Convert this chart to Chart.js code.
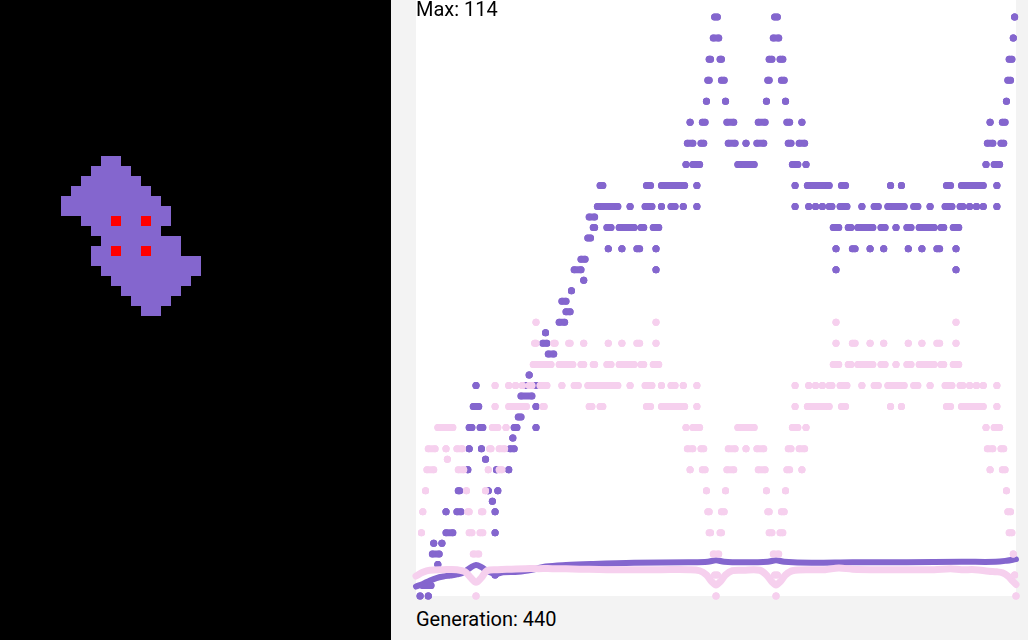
<!DOCTYPE html>
<html>
<head>
<meta charset="utf-8">
<script src="https://cdn.jsdelivr.net/npm/chart.js@4.4.1/dist/chart.umd.min.js"></script>
<style>
  html, body { margin: 0; padding: 0; width: 1028px; height: 640px; overflow: hidden; background: #f3f3f3; font-family: Roboto, sans-serif; }
  #world { position: absolute; left: 0; top: 0; }
  #plotBg { position: absolute; left: 416px; top: 0; width: 600px; height: 596px; background: #fff; }
  #plotBox { position: absolute; left: 406px; top: -14px; width: 620px; height: 620px; }
  .label { position: absolute; left: 416px; font-size: 20px; line-height: 20px; color: #000; }
</style>
</head>
<body>
<canvas id="world" width="391" height="640"></canvas>
<div id="plotBg"></div>
<div id="plotBox"><canvas id="chart"></canvas></div>
<div class="label" style="top:-1px">Max: 114</div>
<div class="label" style="top:609px">Generation: 440</div>
<script>
const purple = '#8466ce';
const pink = '#f6d0ee';

const maxGeneration = 440;
const maxValue = 114;

// runs of generations sitting on the same value: [from, to, value]
const purpleRuns = [
  [3,3,0],[9,9,0],[5,11,2],[58,58,4],[16,16,6],[12,17,8],[13,13,10],[19,19,10],
  [22,27,12],[58,58,12],[22,22,16],[30,33,16],[58,58,16],[56,56,18],
  [31,32,20],[53,53,20],[60,60,20],[38,38,24],[59,59,24],[68,68,24],[51,51,26],
  [39,39,28],[48,48,28],[69,72,28],[71,71,30],
  [39,41,32],[47,49,32],[72,74,32],[88,88,32],[75,77,34],[42,46,36],[88,88,36],
  [77,85,38],[44,44,40],[80,80,40],[88,88,40],[83,83,42],[92,98,44],[97,101,46],
  [93,96,48],[95,95,50],[105,109,52],[110,113,54],[107,110,56],[114,114,58],[123,123,60],
  [116,121,62],[176,176,62],[308,308,62],[396,396,62],[121,124,64],
  [141,141,66],[151,151,66],[162,164,66],[176,176,66],[308,308,66],[320,322,66],[333,333,66],
  [343,343,66],[361,361,66],[371,371,66],[382,384,66],[396,396,66],
  [126,128,68],
  [130,131,70],[140,143,70],[149,160,70],[165,167,70],[174,178,70],[306,310,70],[317,319,70],
  [324,335,70],[341,344,70],[352,352,70],[360,363,70],[369,380,70],[385,387,70],[394,398,70],
  [127,131,72],
  [133,148,74],[157,157,74],[168,173,74],[180,180,74],[187,190,74],[196,196,74],[206,206,74],
  [278,278,74],[288,288,74],[293,293,74],[298,298,74],[303,305,74],[311,316,74],[327,327,74],
  [336,339,74],[346,358,74],[365,368,74],[377,377,74],[388,393,74],[399,401,74],[406,406,74],
  [411,411,74],[416,416,74],[426,426,74],
  [135,137,78],[169,172,78],[180,197,78],[206,206,78],[278,278,78],[287,303,78],[312,315,78],
  [348,348,78],[356,356,78],[389,392,78],[400,416,78],[426,426,78],
  [198,198,82],[203,208,82],[236,248,82],[276,280,82],[286,286,82],[418,418,82],[424,428,82],
  [199,203,86],[209,211,86],[229,234,86],[242,242,86],[250,255,86],[273,275,86],[281,285,86],
  [419,423,86],[429,431,86],
  [201,201,90],[210,212,90],[228,233,90],[251,256,90],[272,274,90],[283,283,90],[421,421,90],[430,432,90],
  [213,213,94],[227,227,94],[257,257,94],[271,271,94],[433,433,94],
  [214,215,98],[224,226,98],[258,259,98],[268,270,98],[434,436,98],
  [215,216,102],[223,224,102],[259,261,102],[267,269,102],[435,437,102],
  [218,222,106],[262,266,106],[438,438,106],
  [219,221,110],[263,265,110],[439,439,110],
  [220,220,114],[264,264,114],[440,440,114]
];

const pinkRuns = [
  [44,44,0],[220,220,0],[264,264,0],[440,440,0],
  [219,221,4],[263,265,4],[439,439,4],
  [42,46,8],[218,222,8],[262,266,8],[438,438,8],
  [4,4,12],[39,41,12],[47,49,12],[215,216,12],[223,224,12],[259,261,12],[267,269,12],[435,437,12],
  [5,5,16],[38,39,16],[48,49,16],[214,215,16],[224,226,16],[258,259,16],[268,270,16],[434,436,16],
  [7,7,20],[37,37,20],[51,51,20],[213,213,20],[227,227,20],[257,257,20],[271,271,20],[433,433,20],
  [8,13,24],[31,35,24],[53,53,24],[61,63,24],[201,201,24],[210,212,24],[228,233,24],[251,256,24],
  [272,274,24],[283,283,24],[421,421,24],[430,432,24],
  [23,23,26],
  [9,14,28],[22,22,28],[30,34,28],[54,55,28],[61,65,28],[199,203,28],[209,211,28],[229,234,28],
  [242,242,28],[250,255,28],[273,275,28],[281,285,28],[419,423,28],[429,431,28],
  [16,27,32],[56,60,32],[66,66,32],[198,198,32],[203,208,32],[236,248,32],[276,280,32],[286,286,32],
  [418,418,32],[424,428,32],
  [58,58,36],[68,81,36],[93,94,36],[127,129,36],[135,137,36],[169,172,36],[180,197,36],[206,206,36],
  [278,278,36],[287,303,36],[312,315,36],[348,348,36],[356,356,36],[389,392,36],[400,416,36],[426,426,36],
  [58,58,40],[68,68,40],[73,73,40],[78,78,40],[83,85,40],[91,96,40],[107,107,40],[116,119,40],
  [126,148,40],[157,157,40],[168,173,40],[180,180,40],[187,190,40],[196,196,40],[206,206,40],
  [278,278,40],[288,288,40],[293,293,40],[298,298,40],[303,305,40],[311,316,40],[327,327,40],
  [336,339,40],[346,358,40],[365,368,40],[377,377,40],[388,393,40],[399,401,40],[406,406,40],
  [411,411,40],[416,416,40],[426,426,40],
  [86,99,44],[105,115,44],[121,123,44],[130,131,44],[140,143,44],[149,160,44],[165,167,44],
  [174,178,44],[306,310,44],[317,319,44],[324,335,44],[341,344,44],[352,352,44],[360,363,44],
  [369,380,44],[385,387,44],[394,398,44],
  [87,88,48],[101,102,48],[112,113,48],[123,123,48],[141,141,48],[151,151,48],[162,164,48],
  [176,176,48],[308,308,48],[320,322,48],[333,333,48],[343,343,48],[361,361,48],[371,371,48],
  [382,384,48],[396,396,48],
  [88,88,52],[176,176,52],[308,308,52],[396,396,52]
];

// the two low averages, read every few generations
const purpleLowGens = [0,5,10,15,20,25,30,35,40,44,48,52,58,64,75,85,95,110,130,160,200,214,220,226,240,258,264,270,290,320,360,400,425,433,440];
const purpleLow     = [1.8,2.3,2.9,3.4,3.7,3.9,4.1,4.5,5.4,5.9,5.5,4.8,4.2,4.5,4.6,5.0,5.6,5.9,6.1,6.3,6.4,6.5,6.8,6.5,6.4,6.5,6.8,6.5,6.3,6.4,6.4,6.5,6.5,6.7,7.0];

const pinkLowGens = [0,5,10,20,30,36,40,44,48,52,60,70,80,90,100,120,140,160,180,200,208,213,217,220,223,227,232,240,252,257,261,264,267,271,276,290,300,310,320,340,360,380,392,400,410,420,426,430,434,437,440];
const pinkLow     = [3.8,4.5,4.9,5.0,5.0,4.6,3.5,2.6,3.5,4.8,5.0,5.1,5.2,5.2,5.2,5.1,5.0,5.0,5.0,5.0,4.8,4.0,2.7,2.1,2.7,4.0,4.8,4.9,4.9,4.0,2.7,2.1,2.7,4.0,4.8,5.0,5.0,5.3,5.1,5.0,5.0,5.0,5.2,5.0,5.0,4.7,4.6,4.4,3.8,3.0,2.2];

// left panel: the creature, '#' body, 'R' red cell
const creature = [
  "....##........",
  "...####.......",
  "..######......",
  ".########.....",
  "##########....",
  "###########...",
  "..###R##R##...",
  "...#######....",
  "....########..",
  "...##R##R###..",
  "...###########",
  "....##########",
  ".....########.",
  "......######..",
  ".......####...",
  "........##...."
];

const w = document.getElementById('world').getContext('2d');
w.fillStyle = '#000';
w.fillRect(0, 0, 391, 640);
creature.forEach((row, r) => {
  [...row].forEach((c, k) => {
    if (c === '.') return;
    w.fillStyle = c === 'R' ? '#ff0000' : purple;
    w.fillRect(61 + k * 10, 156 + r * 10, 10, 10);
  });
});

function runPoints(runs) {
  const pts = [];
  runs.forEach(([from, to, value]) => {
    pts.push({x: from, y: value}, {x: to, y: value}, {x: to, y: null});
  });
  return pts;
}

function runSet(runs, color, order) {
  return {
    data: runPoints(runs),
    showLine: true,
    spanGaps: false,
    borderColor: color,
    borderWidth: 7,
    borderCapStyle: 'round',
    borderJoinStyle: 'round',
    pointRadius: 3.5,
    pointBackgroundColor: color,
    pointBorderWidth: 0,
    clip: false,
    order: order
  };
}

function lowSet(gens, values, color, width, order) {
  return {
    data: gens.map((g, i) => ({x: g, y: values[i]})),
    showLine: true,
    borderColor: color,
    borderWidth: width,
    borderCapStyle: 'round',
    tension: 0.35,
    pointRadius: 0,
    clip: false,
    order: order
  };
}

new Chart(document.getElementById('chart'), {
  type: 'scatter',
  data: {
    datasets: [
      runSet(pinkRuns, pink, 0),
      lowSet(pinkLowGens, pinkLow, pink, 7, 0),
      runSet(purpleRuns, purple, 1),
      lowSet(purpleLowGens, purpleLow, purple, 6, 1)
    ]
  },
  options: {
    responsive: true,
    maintainAspectRatio: false,
    animation: false,
    layout: { padding: 10 },
    scales: {
      x: { type: 'linear', min: 0, max: maxGeneration, display: false },
      y: { min: 0, max: maxValue, display: false }
    },
    plugins: { legend: { display: false }, tooltip: { enabled: false } }
  }
});
</script>
</body>
</html>
